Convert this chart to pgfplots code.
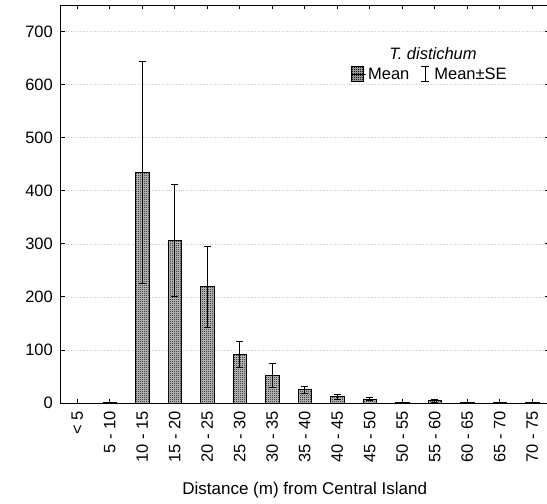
\documentclass[border=0pt]{standalone}
\usepackage{fontspec}
\setmainfont{Liberation Sans}
\usepackage{pgfplots}
\pgfplotsset{compat=1.18}
\usetikzlibrary{patterns}

% fine checkerboard used as the bar fill
\pgfdeclarepatternformonly{finecheck}{\pgfpointorigin}{\pgfpoint{2pt}{2pt}}{\pgfpoint{2pt}{2pt}}{%
  \pgfpathrectangle{\pgfpointorigin}{\pgfpoint{1pt}{1pt}}%
  \pgfpathrectangle{\pgfpoint{1pt}{1pt}}{\pgfpoint{1pt}{1pt}}%
  \pgfusepath{fill}}

\newcommand{\chartfont}{\fontsize{16.5}{19}\selectfont}
\newcommand{\labelfont}{\fontsize{17}{20}\selectfont}

\tikzset{barfill/.style={fill=gray!45, postaction={pattern=finecheck, pattern color=black}}}

\begin{document}
\begin{tikzpicture}
\useasboundingbox (-61pt,-101pt) rectangle (486pt,403pt);
\begin{axis}[
  scale only axis,
  width=487.5pt, height=398pt,
  xmin=-0.5, xmax=14.5,
  ymin=0, ymax=750,
  xtick={0,...,14},
  xticklabels={< 5, 5 - 10, 10 - 15, 15 - 20, 20 - 25, 25 - 30, 30 - 35, 35 - 40, 40 - 45, 45 - 50, 50 - 55, 55 - 60, 60 - 65, 65 - 70, 70 - 75},
  ytick={0,100,...,700},
  tick align=inside,
  major tick length=4pt,
  tick style={black, line width=0.8pt},
  axis line style={black, line width=1pt},
  ymajorgrids,
  major grid style={dotted, gray!40, line width=0.6pt},
  /pgf/number format/assume math mode=true,
  tick label style={font=\chartfont},
  xticklabel style={rotate=90, anchor=east, inner sep=1pt, xshift=-7pt},
  yticklabel style={inner sep=1pt, xshift=-7pt},
  xlabel={Distance (m) from Central Island},
  xlabel style={font=\labelfont, at={(axis description cs:0.5,0)}, anchor=center, yshift=-87pt},
  legend columns=2,
  legend style={draw=none, fill=none, font=\chartfont,
    at={(rel axis cs:0.757,0.826)}, anchor=center,
    inner sep=0pt, outer sep=0pt,
    /tikz/every even column/.append style={column sep=0pt}},
  legend cell align=left,
]
\addplot[ybar, bar width=13.4pt, barfill, line width=0.8pt, draw=black,
  legend image code/.code={
    \draw[line width=0.8pt, barfill] (0pt,-7.5pt) rectangle (11.6pt,7.5pt);
    \path[draw=none, fill=none] (0pt,0pt) rectangle (14pt,0pt);},
  error bars/.cd, y dir=both, y explicit,
  error bar style={black, line width=0.8pt},
  error mark options={rotate=90, mark size=3.6pt, black, line width=0.8pt}]
coordinates {
  (1,0.5)  +- (0,0.5)
  (2,435)  +- (0,209)
  (3,306)  +- (0,106)
  (4,219)  +- (0,76)
  (5,92)   +- (0,25)
  (6,52)   +- (0,23)
  (7,25)   +- (0,7)
  (8,12)   +- (0,5)
  (9,7.5)  +- (0,2.5)
  (10,0.5) +- (0,0.5)
  (11,4)   +- (0,3)
  (12,0.3) +- (0,0.3)
  (13,0.3) +- (0,0.3)
  (14,0.3) +- (0,0.3)
};
\addlegendentry{Mean}
\addlegendimage{legend image code/.code={
  \path[draw=none, fill=none] (0pt,0pt) rectangle (21pt,0pt);
  \draw[line width=0.8pt] (14pt,-7.5pt) -- (14pt,7.5pt);
  \draw[line width=0.8pt] (10pt,7.5pt) -- (18pt,7.5pt);
  \draw[line width=0.8pt] (10pt,-7.5pt) -- (18pt,-7.5pt);}}
\addlegendentry{Mean±SE}
\node[font=\chartfont\itshape, anchor=center] at (rel axis cs:0.763,0.877) {T. distichum};
\end{axis}
\end{tikzpicture}
\end{document}
